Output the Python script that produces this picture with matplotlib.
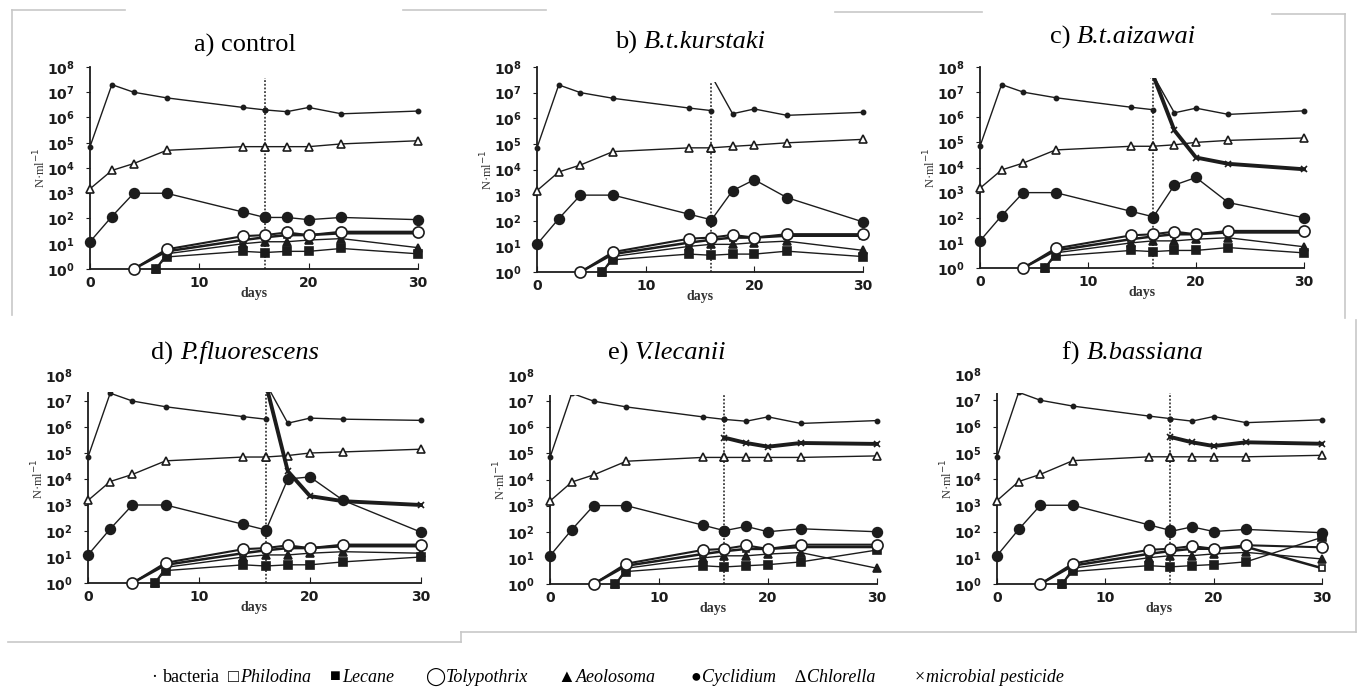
import matplotlib.pyplot as plt
from matplotlib.lines import Line2D
from matplotlib.patches import Rectangle

W, H = 1362, 688

# sampling days
DAYS_PRE = [0, 2, 4, 7, 14, 16]
DAYS_POST = [16, 18, 20, 23, 30]
LOW_DAYS_A = [4, 7, 14]
LOW_DAYS_B = [6, 7, 14]

# values before the pesticide was added (same in every culture)
bacteria_pre = [7e4, 2e7, 1e7, 6e6, 2.5e6, 2e6]
chlorella_pre = [1.5e3, 8e3, 1.5e4, 5e4, 7e4, 7e4]
cyclidium_pre = [12, 120, 1e3, 1e3, 180, 110]
tolypothrix_pre = [1, 6, 20]
philodina_pre = [1, 5, 14]
lecane_pre = [1, 3, 5]
aeolosoma_pre = [1, 4, 10]

panel_titles = [('a) ', 'control', False), ('b) ', 'B.t.kurstaki', True),
                ('c) ', 'B.t.aizawai', True), ('d) ', 'P.fluorescens', True),
                ('e) ', 'V.lecanii', True), ('f) ', 'B.bassiana', True)]

# values from day 16 on, one row per culture a..f
bacteria_post = [[2e6, 1.7e6, 2.5e6, 1.4e6, 1.8e6],
                 [5e7, 1.5e6, 2.3e6, 1.3e6, 1.7e6],
                 [5e7, 1.5e6, 2.3e6, 1.3e6, 1.8e6],
                 [5e7, 1.4e6, 2.2e6, 2.0e6, 1.8e6],
                 [2e6, 1.7e6, 2.5e6, 1.4e6, 1.8e6],
                 [2e6, 1.6e6, 2.4e6, 1.4e6, 1.8e6]]
chlorella_post = [[7e4, 7e4, 7e4, 9e4, 1.2e5],
                  [7e4, 8e4, 9e4, 1.1e5, 1.5e5],
                  [7e4, 8e4, 1e5, 1.2e5, 1.5e5],
                  [7e4, 8e4, 1e5, 1.1e5, 1.4e5],
                  [7e4, 7e4, 7e4, 7e4, 8e4],
                  [7e4, 7e4, 7e4, 7e4, 8e4]]
cyclidium_post = [[110, 110, 90, 110, 90],
                  [100, 1.5e3, 4e3, 800, 90],
                  [100, 2e3, 4e3, 400, 100],
                  [100, 1e4, 1.2e4, 1.5e3, 90],
                  [110, 160, 100, 130, 100],
                  [100, 150, 100, 120, 90]]
pesticide_post = [None,
                  None,
                  [5e7, 3e5, 2.5e4, 1.4e4, 8.5e3],
                  [5e7, 2e4, 2.2e3, 1.4e3, 1e3],
                  [4e5, 2.5e5, 1.8e5, 2.5e5, 2.3e5],
                  [4e5, 2.5e5, 1.8e5, 2.5e5, 2.2e5]]
tolypothrix_post = [[22, 28, 22, 30, 30],
                    [22, 28, 22, 30, 30],
                    [22, 28, 22, 30, 30],
                    [22, 28, 22, 30, 30],
                    [22, 30, 22, 32, 32],
                    [22, 28, 22, 30, 25]]
philodina_post = [[18, 22, 22, 26, 26],
                  [18, 22, 22, 26, 26],
                  [18, 22, 22, 26, 26],
                  [18, 22, 22, 26, 26],
                  [18, 22, 22, 26, 26],
                  [18, 22, 22, 26, 4]]
lecane_post = [[4.5, 5, 5, 6.5, 4],
               [4.5, 5, 5, 6.5, 4],
               [4.5, 5, 5, 6.5, 4],
               [4.5, 5, 5, 6.5, 10],
               [4.5, 5, 5.5, 7, 20],
               [4.5, 5, 5.5, 7, 60]]
aeolosoma_post = [[12, 12, 14, 16, 7],
                  [12, 12, 14, 16, 7],
                  [12, 12, 14, 16, 7],
                  [12, 12, 14, 16, 14],
                  [12, 12, 14, 16, 4],
                  [12, 12, 14, 16, 9]]

legend_items = [('\u00b7 ', 'bacteria', False), ('\u25a1', 'Philodina', True),
                ('\u25a0', 'Lecane', True), ('\u25ef', 'Tolypothrix', True),
                ('\u25b2', 'Aeolosoma', True), ('\u25cf', 'Cyclidium', True),
                ('\u2206', 'Chlorella', True), ('\u00d7', 'microbial pesticide', True)]

# pixel boxes: axes (x0, x1, ytop, ybottom) and title boxes (x0, y0, x1, y1)
axes_px = [(90, 418, 67, 269), (537, 863, 67, 272), (980, 1304, 67, 268),
           (88, 421, 375, 583), (550, 877, 375, 584), (997, 1322, 374, 584)]
title_px = [(125, 12, 403, 78), (546, 10, 835, 82), (982, 14, 1272, 78),
            (82, 322, 400, 392), (535, 322, 870, 395), (992, 322, 1300, 393)]
title_center = [(245, 45), (690, 42), (1123, 37), (235, 353), (667, 353),
                (1133, 353)]

INK = '#1c1c1c'
serif = ['Liberation Serif', 'DejaVu Serif']

fig = plt.figure(figsize=(W / 100, H / 100), dpi=100)
renderer = fig.canvas.get_renderer()


def fx(px):
    return px / W


def fy(py):
    return 1 - py / H


def draw(ax, x, y, marker, ms, mfc, lw=1.0, z=3):
    ax.plot(x, y, color=INK, lw=lw, marker=marker, ms=ms, mfc=mfc,
            mec=INK, mew=1.2, clip_on=False, zorder=z)


def run_text(x_px, y_px, parts, size, z=11, gap=0):
    # lay out (text, kwargs) pieces left to right starting at x_px
    x = x_px
    out = []
    for s, kw in parts:
        t = fig.text(fx(x), fy(y_px), s, fontsize=size, ha='left',
                     va='center', zorder=z, **kw)
        bb = t.get_window_extent(renderer)
        x += bb.width + gap
        out.append(t)
    return x - x_px, out


for i, (x0, x1, yt, yb) in enumerate(axes_px):
    ax = fig.add_axes([fx(x0), fy(yb), fx(x1 - x0), (yb - yt) / H])
    ax.set_yscale('log')
    ax.set_ylim(1, 1e8)
    ax.set_xlim(0, 30)
    for s in ('top', 'right'):
        ax.spines[s].set_visible(False)
    for s in ('left', 'bottom'):
        ax.spines[s].set_color(INK)
        ax.spines[s].set_linewidth(1.3)
    ax.set_yticks([10.0 ** k for k in range(9)])
    ax.set_yticklabels([r'$\mathbf{10^{%d}}$' % k for k in range(9)])
    ax.minorticks_off()
    ax.set_xticks([0, 10, 20, 30])
    ax.set_xticklabels(['0', '10', '20', '30'], fontweight='bold')
    ax.tick_params(axis='y', direction='out', length=3, pad=8,
                   labelsize=10, colors=INK)
    ax.tick_params(axis='x', direction='in', length=4, pad=5,
                   labelsize=10, colors=INK)
    ax.set_xlabel('days', family=serif, fontsize=10, fontweight='bold',
                  labelpad=-2, color='#333333')
    ax.set_ylabel('N\u00b7ml$^{-1}$', family=serif, fontsize=9,
                  labelpad=-1, color='#333333')

    # day of pesticide addition
    ax.plot([16, 16], [1, 4e7], ls=(0, (1.2, 1.2)), color=INK, lw=1.1,
            zorder=2)

    draw(ax, DAYS_PRE, bacteria_pre, 'o', 3, INK)
    draw(ax, DAYS_POST, bacteria_post[i], 'o', 3, INK)
    draw(ax, DAYS_PRE, chlorella_pre, '^', 6, 'white')
    draw(ax, DAYS_POST, chlorella_post[i], '^', 6, 'white')
    draw(ax, DAYS_PRE, cyclidium_pre, 'o', 7, INK)
    draw(ax, DAYS_POST, cyclidium_post[i], 'o', 7, INK)
    if pesticide_post[i] is not None:
        draw(ax, DAYS_POST, pesticide_post[i], 'x', 4, INK, lw=2.8, z=4)

    draw(ax, LOW_DAYS_B + DAYS_POST, aeolosoma_pre + aeolosoma_post[i],
         '^', 6, INK)
    draw(ax, LOW_DAYS_B + DAYS_POST, lecane_pre + lecane_post[i],
         's', 6, INK)
    draw(ax, LOW_DAYS_A + DAYS_POST, philodina_pre + philodina_post[i],
         's', 5, 'white', lw=1.8)
    draw(ax, LOW_DAYS_A + DAYS_POST, tolypothrix_pre + tolypothrix_post[i],
         'o', 8, 'white', lw=1.5)

# white title boxes sitting over the top of each panel
for (x0, y0, x1, y1), (cx, cy), (tag, name, ital) in zip(title_px, title_center,
                                                         panel_titles):
    fig.add_artist(Rectangle((fx(x0), fy(y1)), fx(x1 - x0), (y1 - y0) / H,
                             transform=fig.transFigure, facecolor='white',
                             edgecolor='none', zorder=10))
    parts = [(tag, dict(family=serif)),
             (name, dict(family=serif, style='italic' if ital else 'normal'))]
    width, texts = run_text(cx, cy, parts, 19)
    # shift so the whole title is centred on cx
    for t in texts:
        xx, yy = t.get_position()
        t.set_x(xx - fx(width / 2))

# thin grey frame lines left over from the assembled panels
frame = [((12, 10), (12, 315)), ((12, 10), (125, 10)), ((403, 10), (546, 10)),
         ((835, 12), (982, 12)), ((1272, 14), (1345, 14)),
         ((1345, 14), (1345, 318)), ((1356, 320), (1356, 632)),
         ((461, 632), (1356, 632)), ((461, 632), (461, 642)),
         ((8, 642), (461, 642))]
for (xa, ya), (xb, yb) in frame:
    fig.add_artist(Line2D([fx(xa), fx(xb)], [fy(ya), fy(yb)],
                          transform=fig.transFigure, color='#c8c8c8',
                          lw=1.2, zorder=12))

# legend line under the panels
leg_x = [152, 228, 330, 425, 557, 690, 795, 915]
for px, (sym, name, ital) in zip(leg_x, legend_items):
    parts = [(sym, dict(family=['Liberation Serif', 'DejaVu Sans'])),
             (name, dict(family=serif, style='italic' if ital else 'normal'))]
    run_text(px, 677, parts, 13, gap=1)

fig.savefig('out.png', dpi=100, facecolor='white')
